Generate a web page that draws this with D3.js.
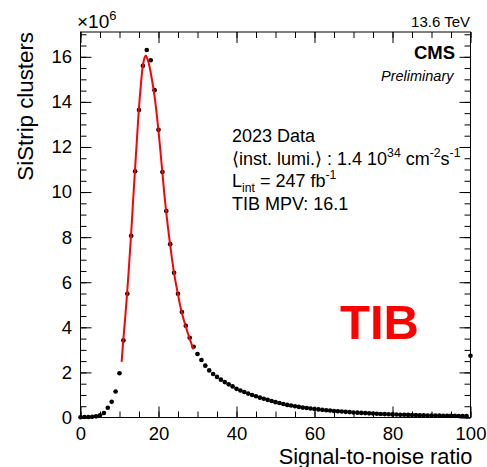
<!DOCTYPE html>
<html>
<head>
<meta charset="utf-8">
<script src="https://cdn.jsdelivr.net/npm/d3@7"></script>
<style>
  body { margin: 0; background: #fff; }
  svg { display: block; font-family: "Liberation Sans", Arial, Helvetica, sans-serif; }
  .axis text { font-size: 18.5px; fill: #000; }
  .axis line { stroke: #000; }
</style>
</head>
<body>
<div id="chart"></div>
<script>

// SiStrip cluster signal-to-noise, TIB, 2023 data (values in units of 10^6)
var binWidth = 1;
var snrBins = d3.range(0, 101, binWidth);   // bin centres 0 ... 100 (last one holds the overflow)
var clusters = [
  0.01, 0.02, 0.02, 0.03, 0.05, 0.10, 0.20, 0.43, 0.70, 1.15,
  1.96, 3.42, 5.49, 8.06, 10.92, 13.64, 15.60, 16.30, 15.85, 14.52,
  12.76, 10.89, 9.16, 7.69, 6.42, 5.49, 4.68, 4.07, 3.54, 3.14,
  2.82, 2.55, 2.30, 2.09, 1.93, 1.80, 1.68, 1.57, 1.47, 1.38,
  1.27, 1.20, 1.13, 1.06, 1.00, 0.94, 0.88, 0.83, 0.78, 0.73,
  0.68, 0.64, 0.60, 0.56, 0.53, 0.50, 0.47, 0.44, 0.42, 0.40,
  0.38, 0.36, 0.34, 0.32, 0.31, 0.29, 0.28, 0.265, 0.25, 0.24,
  0.225, 0.215, 0.205, 0.195, 0.185, 0.175, 0.165, 0.158, 0.15, 0.143,
  0.137, 0.131, 0.125, 0.12, 0.115, 0.11, 0.105, 0.10, 0.096, 0.092,
  0.088, 0.085, 0.082, 0.079, 0.076, 0.073, 0.071, 0.069, 0.067, 0.065,
  2.74
];

// Landau x Gauss fit
var fitSnr = [10.55, 10.95, 11.45, 11.95, 12.45, 12.95, 13.45, 13.95, 14.45, 14.95,
  15.45, 15.95, 16.45, 16.75, 16.95, 17.45, 17.95, 18.45, 18.95, 19.45, 19.95,
  20.45, 20.95, 21.45, 21.95, 22.45, 22.95, 23.45, 23.95, 24.45, 24.95, 25.45,
  25.95, 26.45, 26.95, 27.45, 27.95, 28.45, 28.95];
var fitClusters = [2.47, 3.40, 4.40, 5.50, 6.75, 8.06, 9.50, 10.92, 12.30, 13.64,
  14.70, 15.55, 15.97, 16.06, 16.00, 15.75, 15.35, 14.85, 14.30, 13.60, 12.80,
  11.90, 10.95, 10.00, 9.15, 8.40, 7.70, 7.05, 6.45, 5.95, 5.50, 5.05,
  4.68, 4.35, 4.06, 3.78, 3.52, 3.27, 3.02];

var xMajor = [0, 20, 40, 60, 80, 100];
var xMinor = d3.range(0, 101, 5);
var yMajor = [0, 2, 4, 6, 8, 10, 12, 14, 16];
var yMinor = d3.range(0, 17.01, 0.5);

(function() {

  var width = 487, height = 467;
  var frame = { left: 80.5, right: 470.5, top: 32, bottom: 417.5 };

  var x = d3.scaleLinear().domain([0, 100]).range([frame.left, frame.right]);
  var y = d3.scaleLinear().domain([0, 17.1]).range([frame.bottom, frame.top]);

  var svg = d3.select("#chart").append("svg")
    .attr("width", width)
    .attr("height", height);

  // ticks on all four sides, pointing inwards (ROOT style)
  function ticks(axis, values, size, labels) {
    return axis.tickValues(values).tickSizeInner(-size).tickSizeOuter(0)
      .tickFormat(labels ? d3.format("d") : "");
  }

  function side(tx, ty) {
    return svg.append("g").attr("class", "axis")
      .attr("transform", "translate(" + tx + "," + ty + ")");
  }

  var axisB = side(0, frame.bottom);
  axisB.append("g").call(ticks(d3.axisBottom(x), xMinor, 6, false));
  axisB.append("g").call(ticks(d3.axisBottom(x), xMajor, 11, true).tickPadding(9));

  var axisT = side(0, frame.top);
  axisT.append("g").call(ticks(d3.axisTop(x), xMinor, 6, false));
  axisT.append("g").call(ticks(d3.axisTop(x), xMajor, 11, false));

  var axisL = side(frame.left, 0);
  axisL.append("g").call(ticks(d3.axisLeft(y), yMinor, 6, false));
  axisL.append("g").call(ticks(d3.axisLeft(y), yMajor, 11, true).tickPadding(8.5));

  var axisR = side(frame.right, 0);
  axisR.append("g").call(ticks(d3.axisRight(y), yMinor, 6, false));
  axisR.append("g").call(ticks(d3.axisRight(y), yMajor, 11, false));

  svg.selectAll(".axis .domain").remove();

  svg.append("rect")
    .attr("x", frame.left).attr("y", frame.top)
    .attr("width", frame.right - frame.left)
    .attr("height", frame.bottom - frame.top)
    .attr("fill", "none")
    .attr("stroke", "#000")
    .attr("stroke-width", 1);

  // histogram points with x error bars
  var points = snrBins.map(function(s, i) { return [s, clusters[i]]; });

  var plot = svg.append("g");

  plot.selectAll("line.err")
    .data(points)
    .enter().append("line")
    .attr("class", "err")
    .attr("x1", function(d) { return x(Math.max(0, d[0] - binWidth / 2)); })
    .attr("x2", function(d) { return x(Math.min(100, d[0] + binWidth / 2)); })
    .attr("y1", function(d) { return y(d[1]); })
    .attr("y2", function(d) { return y(d[1]); })
    .attr("stroke", "#000")
    .attr("stroke-width", 1);

  plot.selectAll("circle.pt")
    .data(points)
    .enter().append("circle")
    .attr("class", "pt")
    .attr("cx", function(d) { return x(d[0]); })
    .attr("cy", function(d) { return y(d[1]); })
    .attr("r", 2.3)
    .attr("fill", "#000");

  var fitLine = d3.line()
    .x(function(d, i) { return x(fitSnr[i]); })
    .y(function(d) { return y(d); })
    .curve(d3.curveCatmullRom);

  plot.append("path")
    .datum(fitClusters)
    .attr("d", fitLine)
    .attr("fill", "none")
    .attr("stroke", "#ff0000")
    .attr("stroke-width", 2);

  // text with sub/superscripts: parts are [text, "sup"|"sub"|null]
  function richText(g, px, py, size, parts) {
    var t = g.append("text").attr("x", px).attr("y", py).attr("font-size", size + "px");
    var shift = 0;
    parts.forEach(function(p) {
      var target = p[1] === "sup" ? -0.42 * size : p[1] === "sub" ? 0.28 * size : 0;
      t.append("tspan")
        .attr("dy", target - shift)
        .attr("font-size", p[1] ? (0.68 * size) + "px" : null)
        .text(p[0]);
      shift = target;
    });
    return t;
  }

  richText(svg, 77, 28, 19, [["\u00d710", null], ["6", "sup"]]);

  svg.append("text")
    .attr("transform", "translate(33," + frame.top + ") rotate(-90)")
    .attr("text-anchor", "end")
    .attr("font-size", "22.3px")
    .text("SiStrip clusters");

  svg.append("text")
    .attr("x", frame.right + 2).attr("y", 463.5)
    .attr("text-anchor", "end")
    .attr("font-size", "21.8px")
    .text("Signal-to-noise ratio");

  svg.append("text")
    .attr("x", 470).attr("y", 26.5)
    .attr("text-anchor", "end")
    .attr("font-size", "15px")
    .text("13.6 TeV");

  svg.append("text")
    .attr("x", 455).attr("y", 58.5)
    .attr("text-anchor", "end")
    .attr("font-size", "18.5px")
    .attr("font-weight", "bold")
    .text("CMS");

  svg.append("text")
    .attr("x", 453.5).attr("y", 81)
    .attr("text-anchor", "end")
    .attr("font-size", "14.5px")
    .attr("font-style", "italic")
    .text("Preliminary");

  var info = svg.append("g");
  richText(info, 232, 141.5, 18, [["2023 Data", null]]);
  richText(info, 232, 164.5, 18, [["\u27e8inst. lumi.\u27e9 : 1.4 10", null], ["34", "sup"],
    [" cm", null], ["-2", "sup"], ["s", null], ["-1", "sup"]]);
  richText(info, 232, 187, 18, [["L", null], ["int", "sub"], [" = 247 fb", null], ["-1", "sup"]]);
  richText(info, 232, 210, 18, [["TIB MPV: 16.1", null]]);

  svg.append("text")
    .attr("x", 340).attr("y", 339)
    .attr("font-size", "49px")
    .attr("font-weight", "bold")
    .attr("fill", "#ff0000")
    .text("TIB");

})();

</script>
</body>
</html>
